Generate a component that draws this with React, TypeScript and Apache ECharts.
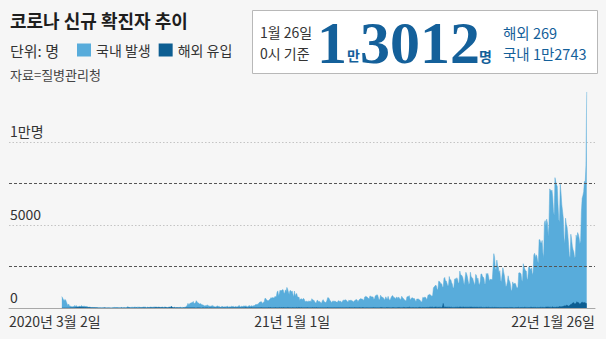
import React, { useEffect, useRef } from "react";
import * as echarts from "echarts";

// Daily new confirmed cases (total), 0시 기준, from 2020-03-02 to 2022-01-26
const total2020Mar = [686,600,516,438,518,483,367,248,131,242,114,110,107,76,74,84,93,152,87,147,98,64,76,100,104,91,146,105,78,125];
const total2020Apr = [101,89,86,94,81,47,47,53,39,27,30,32,25,27,27,22,22,18,8,13,9,11,8,6,10,10,10,14,9,4];
const total2020May = [9,6,13,8,3,2,4,12,18,34,35,27,26,29,27,19,13,15,13,32,12,20,23,25,16,19,40,79,58,39,27];
const total2020Jun = [35,38,49,39,39,51,57,38,38,50,45,56,48,34,37,34,43,59,49,67,48,17,46,51,28,39,51,62,42,43];
const total2020Jul = [51,54,63,63,61,48,44,62,50,45,35,44,62,33,39,61,60,39,34,26,45,63,59,41,113,58,25,28,48,18,36];
const total2020Aug = [31,30,23,34,33,43,20,43,36,28,34,54,56,103,166,279,197,246,297,288,324,332,397,266,280,320,441,371,323,299,248];
const total2020Sep = [235,267,195,198,168,167,119,136,156,155,176,136,121,109,106,113,153,126,110,82,70,61,110,125,114,61,95,50,38,113];
const total2020Oct = [77,63,75,64,73,75,114,69,54,72,58,97,102,84,110,47,73,91,76,58,89,121,155,77,61,119,88,103,125,114,127];
const total2020Nov = [124,97,75,118,125,145,89,143,126,100,146,143,191,205,208,223,230,313,343,363,386,330,271,349,382,583,569,503,450,438];
const total2020Dec = [451,511,540,629,583,631,615,594,686,682,689,950,1030,718,880,1078,1014,1062,1097,1097,926,869,1092,985,1241,1132,970,808,1045,1050,967];
const total2021Jan = [1029,824,657,1020,715,840,869,674,641,665,451,537,562,524,513,580,520,389,386,404,401,346,431,392,437,349,559,497,469,458,355];
const total2021Feb = [305,336,467,451,370,393,372,289,303,444,504,403,362,326,344,457,621,621,561,448,416,332,357,440,396,406,415,356];
const total2021Mar = [355,344,444,424,398,416,346,346,446,470,465,488,490,459,382,363,469,445,463,452,456,415,346,428,430,494,505,482,382,447,506];
const total2021Apr = [551,558,543,543,473,478,668,700,671,677,614,587,542,731,698,673,658,672,532,549,731,735,797,785,644,500,512,769,680,661];
const total2021May = [627,606,488,541,676,574,525,701,564,463,511,635,715,747,681,610,619,528,654,646,561,666,585,530,516,707,629,587,533,480,430];
const total2021Jun = [459,677,681,695,744,556,485,602,611,602,556,565,452,399,545,540,545,507,482,429,357,395,645,610,634,668,614,501,595,794];
const total2021Jul = [762,826,794,743,711,746,1212,1275,1316,1378,1324,1100,1150,1615,1600,1536,1452,1454,1252,1278,1784,1842,1630,1629,1487,1318,1365,1896,1674,1710,1539];
const total2021Aug = [1442,1219,1202,1725,1776,1704,1823,1729,1492,1537,2223,1987,1990,1928,1816,1556,1373,1805,2152,2052,1880,1626,1418,1508,2155,1882,1840,1793,1619,1487,1372];
const total2021Sep = [2025,1961,1709,1804,1490,1375,1597,2050,2049,1892,1865,1755,1433,1497,2080,2008,2087,1910,1604,1729,1720,1716,1715,2431,3273,3048,2383,2289,2884,2564];
const total2021Oct = [2486,2085,2248,1673,1575,2028,2427,2175,1953,1594,1297,1347,1584,1939,1684,1618,1420,1050,1073,1571,1441,1439,1508,1423,1266,1190,1266,2111,2124,2104,2061];
const total2021Nov = [1686,1589,2667,2482,2344,2247,2224,1758,1715,2425,2520,2368,2324,2419,2006,2125,3187,3292,3034,3206,3120,2827,2699,4115,4116,3938,3899,4068,3309,3032];
const total2021Dec = [5123,5266,4944,5352,5128,4325,4954,7175,7102,7022,7102,6689,5817,5567,7850,7622,7435,7314,6236,5318,5202,7456,6919,6233,5842,5419,4207,3865,5409,5037,4875];
const total2022Jan = [4416,3833,3129,3022,4443,4126,3714,3511,3376,3005,3097,4388,4167,4542,4423,4193,3859,4071,5805,6603,6769,7009,7630,7513,8571,13012];

// Daily imported (해외 유입) cases, same dates
const overseas2020Mar = [0,1,2,2,3,2,5,4,3,6,5,8,10,12,10,13,18,20,34,30,41,39,51,51,57,41,48,52,48,41];
const overseas2020Apr = [36,38,34,30,23,33,24,29,20,16,15,17,13,15,10,9,13,8,5,7,6,5,6,3,6,6,8,13,5,3];
const overseas2020May = [6,3,7,4,1,2,0,2,2,4,5,2,4,6,3,4,2,7,5,11,3,6,4,6,3,4,6,11,12,12,9];
const overseas2020Jun = [5,6,5,6,5,8,7,4,12,5,6,6,8,10,10,8,11,16,11,12,15,7,11,21,18,12,11,29,11,12];
const overseas2020Jul = [15,20,15,27,28,24,22,30,28,26,21,28,28,18,15,17,25,25,15,10,18,26,29,34,86,40,12,11,30,7,16];
const overseas2020Aug = [9,9,10,4,9,14,4,7,6,18,9,7,9,18,11,12,9,11,9,14,14,14,11,8,10,4,7,12,15,15,9];
const overseas2020Sep = [9,6,6,9,10,14,6,9,12,12,16,6,10,11,17,8,8,5,8,11,15,7,10,15,9,5,10,10,5,12];
const overseas2020Oct = [7,8,11,5,9,6,9,12,7,9,11,13,10,11,18,15,20,15,12,13,17,14,17,15,13,8,21,14,15,15,23];
const overseas2020Nov = [23,15,11,19,19,28,12,25,16,13,16,16,12,14,16,15,20,18,20,20,23,16,16,15,13,18,14,19,14,20];
const overseas2020Dec = [31,18,28,29,6,16,22,19,20,27,16,22,11,20,31,16,15,25,12,25,24,18,20,21,16,34,24,21,22,21,9];
const overseas2021Jan = [20,24,16,20,11,19,30,11,30,24,24,13,27,22,17,20,20,17,22,21,26,14,21,15,21,14,19,28,14,26,16];
const overseas2021Feb = [22,31,12,20,20,12,20,12,12,16,8,14,11,15,11,18,27,17,14,21,13,13,11,10,12,18,8,13];
const overseas2021Mar = [16,17,20,20,15,21,13,16,17,10,12,15,13,22,14,14,16,23,17,18,19,17,12,20,23,15,22,15,21,20,24];
const overseas2021Apr = [18,14,13,24,24,14,10,12,22,17,21,13,10,20,11,15,18,19,29,19,20,20,14,21,16,18,20,29,25,23];
const overseas2021May = [21,16,17,12,9,27,25,18,23,19,14,12,13,24,28,22,17,11,16,22,24,25,31,20,15,21,22,37,25,24,22];
const overseas2021Jun = [19,23,27,26,48,33,21,20,26,19,24,18,22,24,19,16,24,33,39,31,18,32,26,28,25,21,32,30,34,28];
const overseas2021Jul = [27,44,49,38,52,51,33,38,38,63,49,36,46,38,44,37,51,26,68,275,64,46,58,42,57,50,48,48,59,35,50];
const overseas2021Aug = [31,34,36,32,44,36,47,49,29,61,47,60,45,45,49,58,40,43,47,45,46,39,47,51,53,48,59,38,41,46,44];
const overseas2021Sep = [40,44,43,38,37,44,49,36,48,28,37,35,30,37,39,46,35,46,35,24,31,33,36,40,21,38,34,30,32,28];
const overseas2021Oct = [27,32,18,26,25,20,31,28,30,26,28,23,24,25,20,33,31,34,23,29,21,18,18,31,27,31,28,44,19,24,24];
const overseas2021Nov = [32,33,23,35,45,35,35,22,37,30,28,33,43,40,26,44,29,36,38,19,25,33,25,29,33,44,37,36,41,33];
const overseas2021Dec = [31,33,64,53,60,51,59,43,51,37,49,72,39,44,41,40,57,52,57,59,90,76,78,78,83,102,100,145,111,170,168];
const overseas2022Jan = [135,111,135,187,216,219,289,318,322,248,255,279,379,331,326,273,232,271,330,349,333,312,327,309,270,269];

const dailyTotal = [
  ...total2020Mar, ...total2020Apr, ...total2020May, ...total2020Jun, ...total2020Jul, ...total2020Aug,
  ...total2020Sep, ...total2020Oct, ...total2020Nov, ...total2020Dec, ...total2021Jan, ...total2021Feb,
  ...total2021Mar, ...total2021Apr, ...total2021May, ...total2021Jun, ...total2021Jul, ...total2021Aug,
  ...total2021Sep, ...total2021Oct, ...total2021Nov, ...total2021Dec, ...total2022Jan,
];
const dailyOverseas = [
  ...overseas2020Mar, ...overseas2020Apr, ...overseas2020May, ...overseas2020Jun, ...overseas2020Jul, ...overseas2020Aug,
  ...overseas2020Sep, ...overseas2020Oct, ...overseas2020Nov, ...overseas2020Dec, ...overseas2021Jan, ...overseas2021Feb,
  ...overseas2021Mar, ...overseas2021Apr, ...overseas2021May, ...overseas2021Jun, ...overseas2021Jul, ...overseas2021Aug,
  ...overseas2021Sep, ...overseas2021Oct, ...overseas2021Nov, ...overseas2021Dec, ...overseas2022Jan,
];

const seriesNames = ["국내 발생", "해외 유입"];
const xTickLabels = ["2020년 3월 2일", "21년 1월 1일", "22년 1월 26일"];
const xTickDayIndex = [0, 305, 695];
const yTickValues = [0, 5000, 10000];
const yTickLabels = ["0", "5000", "1만명"];
const guideValues = [2500, 7500];

const FONT = '"Noto Sans CJK KR", "Noto Sans", sans-serif';
const SERIF = '"Liberation Serif", "DejaVu Serif", serif';
const LIGHT = "#58acdb";
const DARK = "#0d5e92";
const NUM = "#14609a";
const X_MIN = -70;
const X_MAX = 706;

export default function App() {
  const ref = useRef<HTMLDivElement>(null);
  useEffect(() => {
    if (!ref.current) return;
    const chart = echarts.init(ref.current, null, { renderer: "svg" });
    // 해외 유입 is drawn from the baseline; 국내 발생 sits on top of it, so its upper edge is the daily total.
    const overseasData = dailyOverseas.map((v, i) => [i, v]);
    const domesticTopData = dailyTotal.map((v, i) => [i, v]);
    const txt = (x: number, y: number, text: string, size: number, color: string, weight = "normal", family = FONT) => ({
      type: "text",
      x,
      y,
      silent: true,
      style: { text, fill: color, fontSize: size, fontWeight: weight, fontFamily: family, align: "left", verticalAlign: "middle" },
    });
    chart.setOption({
      animation: false,
      backgroundColor: "#f6f6f6",
      textStyle: { fontFamily: FONT },
      grid: { left: 9, right: 11, top: 90.5, bottom: 31 },
      legend: {
        data: seriesNames,
        left: 77,
        top: 43,
        padding: 0,
        icon: "rect",
        itemWidth: 14,
        itemHeight: 13,
        itemGap: 8,
        selectedMode: false,
        textStyle: { fontSize: 14, color: "#333", fontFamily: FONT },
      },
      xAxis: {
        type: "value",
        min: X_MIN,
        max: X_MAX,
        splitLine: { show: false },
        axisTick: { show: false },
        axisLine: { show: true, lineStyle: { color: "#a8a8a8", width: 1 } },
        axisLabel: {
          customValues: [X_MIN, xTickDayIndex[1], X_MAX],
          alignMinLabel: "left",
          alignMaxLabel: "right",
          margin: 6,
          fontSize: 14,
          color: "#333",
          fontFamily: FONT,
          formatter: (v: number) => (v <= xTickDayIndex[0] ? xTickLabels[0] : v >= xTickDayIndex[2] ? xTickLabels[2] : xTickLabels[1]),
        },
      },
      yAxis: {
        type: "value",
        min: 0,
        max: 13100,
        interval: 5000,
        axisLine: { show: false },
        axisTick: { show: false },
        splitLine: { show: true, showMinLine: false, showMaxLine: false, lineStyle: { color: "#c4c4c4", type: [1.5, 2], width: 1 } },
        axisLabel: {
          inside: true,
          showMaxLabel: false,
          align: "left",
          verticalAlign: "bottom",
          margin: 1,
          padding: [0, 0, 4, 0],
          fontSize: 14,
          color: "#333",
          fontFamily: FONT,
          formatter: (v: number) => {
            const k = yTickValues.indexOf(v);
            return k >= 0 ? yTickLabels[k] : "";
          },
        },
      },
      series: [
        {
          name: seriesNames[0],
          type: "line",
          data: domesticTopData,
          symbol: "none",
          silent: true,
          lineStyle: { width: 0.5, color: LIGHT },
          itemStyle: { color: LIGHT },
          areaStyle: { color: LIGHT, opacity: 1, origin: "start" },
          z: 2,
          markLine: {
            silent: true,
            symbol: ["none", "none"],
            label: { show: false },
            lineStyle: { color: "#555", type: [3, 2], width: 1 },
            data: guideValues.map((v) => ({ yAxis: v })),
          },
        },
        {
          name: seriesNames[1],
          type: "line",
          data: overseasData,
          symbol: "none",
          silent: true,
          lineStyle: { width: 0.5, color: DARK },
          itemStyle: { color: DARK },
          areaStyle: { color: DARK, opacity: 1, origin: "start" },
          z: 3,
        },
      ],
      graphic: [
        txt(10, 20, "코로나 신규 확진자 추이", 18, "#1e1e1e", "bold"),
        txt(10, 50, "단위: 명", 15, "#333"),
        txt(10, 74, "자료=질병관리청", 13, "#444"),
        {
          type: "rect",
          silent: true,
          shape: { x: 252.5, y: 10.5, width: 345, height: 63 },
          style: { fill: "#ffffff", stroke: "#b8b8b8", lineWidth: 1 },
        },
        txt(260, 32, "1월 26일", 14, "#333"),
        txt(260, 53, "0시 기준", 14, "#333"),
        txt(317, 43, "1", 60, NUM, "bold", SERIF),
        txt(347, 55, "만", 14, NUM, "bold"),
        txt(360, 43, "3012", 60, NUM, "bold", SERIF),
        txt(479, 56, "명", 14, NUM, "bold"),
        txt(503, 32, "해외 269", 14.5, NUM),
        txt(503, 53, "국내 1만2743", 14.5, NUM),
      ],
    });
    return () => chart.dispose();
  }, []);
  return <div ref={ref} style={{ position: "absolute", left: 0, top: 0, width: 606, height: 339 }} />;
}
